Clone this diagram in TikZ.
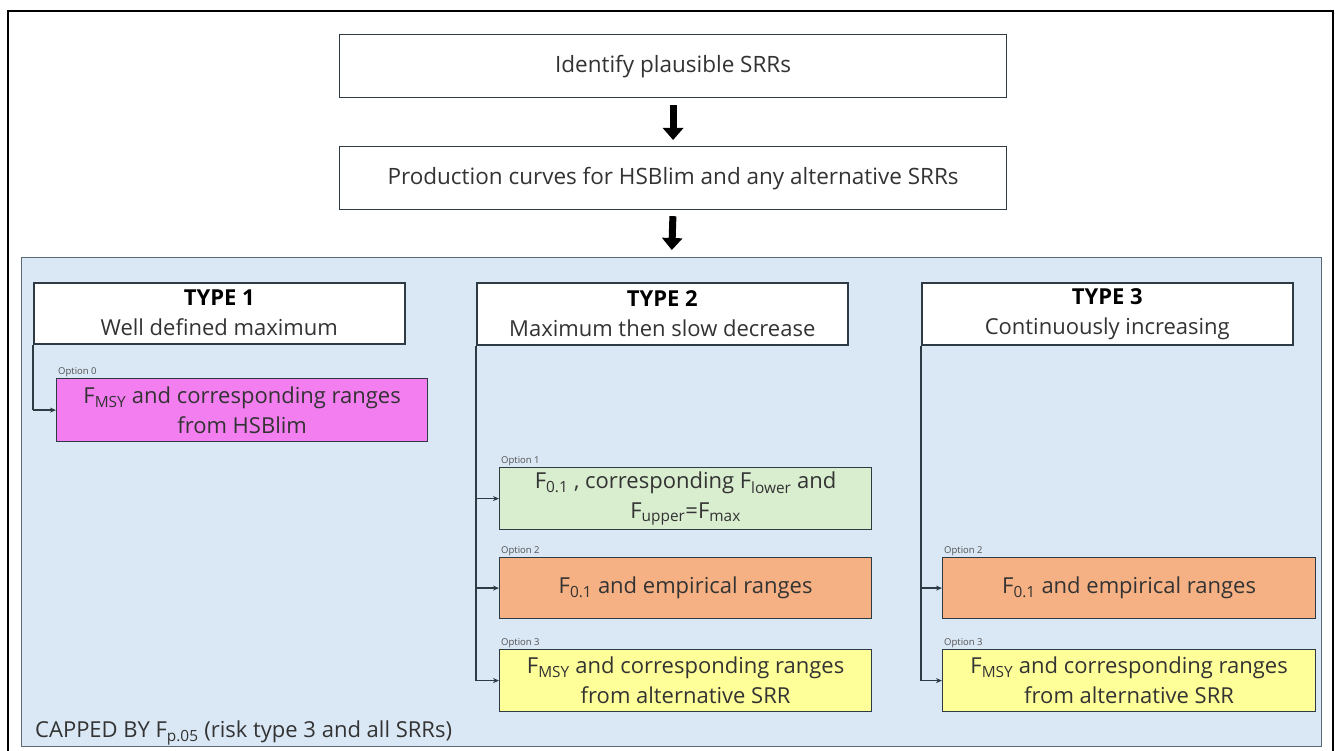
\documentclass[tikz,border=0pt]{standalone}
\usepackage{fontspec}
\setmainfont{Open Sans}
\usetikzlibrary{arrows.meta}
\definecolor{panelfill}{HTML}{DAE8F5}
\definecolor{panelline}{HTML}{5A6878}
\definecolor{boxline}{HTML}{2E3A44}
\definecolor{txt}{HTML}{333333}
\definecolor{pinkfill}{HTML}{F27EF0}
\definecolor{greenfill}{HTML}{D9EDCF}
\definecolor{orangefill}{HTML}{F5B183}
\definecolor{yellowfill}{HTML}{FFFF99}
\tikzset{
  flowbox/.style={draw=boxline, line width=1.2pt, fill=white, anchor=north west,
    inner sep=0pt, align=center, text=txt, font=\fontsize{22.5}{28}\selectfont},
  typebox/.style={draw=boxline, line width=1.5pt, fill=white, anchor=north west,
    inner sep=0pt, align=center, text=txt, font=\fontsize{22}{30}\selectfont},
  optbox/.style={draw=boxline, line width=1.2pt, anchor=north west,
    inner sep=0pt, align=center, text=txt, font=\fontsize{22}{30}\selectfont},
  optlabel/.style={anchor=south west, inner sep=0pt, text=txt!85,
    font=\fontsize{9.5}{10}\selectfont},
  bigarrow/.style={line width=7pt, -{Triangle[width=20pt,length=12pt]}},
  branch/.style={line width=1.5pt, draw=boxline, -{Stealth[length=6pt,width=5pt]}},
  trunk/.style={line width=1.5pt, draw=boxline}
}
\newcommand{\sub}[1]{\textsubscript{#1}}
\begin{document}
\begin{tikzpicture}[x=1pt,y=-1pt]
\useasboundingbox (0,0) rectangle (1335,751);
% outer frame (open at the bottom edge)
\draw[line width=2pt, black] (8,753) -- (8,11) -- (1333,11) -- (1333,753);

% top of the flow
\node[flowbox, minimum width=667pt, minimum height=63pt] (ident) at (339,34) {Identify plausible SRRs};
\node[flowbox, minimum width=667pt, minimum height=63pt] (prod) at (339,146) {Production curves for HSBlim and any alternative SRRs};
\draw[bigarrow, shorten <=7pt, shorten >=6pt] (ident.south) -- (prod.north);

% panel holding the three curve types
\node[draw=panelline, line width=1.2pt, fill=panelfill, anchor=north west, inner sep=0pt,
  minimum width=1300pt, minimum height=489pt] (panel) at (21,257) {};
\draw[bigarrow, shorten <=6pt, shorten >=7pt] (prod.south) -- (panel.north);

\node[anchor=base west, inner sep=0pt, text=txt, font=\fontsize{22}{26}\selectfont] (cap) at (35,737)
  {CAPPED BY F\sub{p.05} (risk type 3 and all SRRs)};

% type headers
\node[typebox, minimum width=371pt, minimum height=61pt] (t1) at (33,282)
  {{\bfseries\color{black}TYPE 1}\\Well defined maximum};
\node[typebox, minimum width=371pt, minimum height=62pt] (t2) at (476,282)
  {{\bfseries\color{black}TYPE 2}\\Maximum then slow decrease};
\node[typebox, minimum width=371pt, minimum height=62pt] (t3) at (921,282)
  {{\bfseries\color{black}TYPE 3}\\Continuously increasing};

% options
\node[optbox, fill=pinkfill, minimum width=371pt, minimum height=63pt] (o0) at (56,378)
  {F\sub{MSY} and corresponding ranges\\from HSBlim};
\node[optlabel] at (o0.north west) [xshift=2pt,yshift=1pt] {Option 0};

\node[optbox, fill=greenfill, minimum width=372pt, minimum height=62pt] (o21) at (499,467)
  {F\sub{0.1} , corresponding F\sub{lower} and\\F\sub{upper}=F\sub{max}};
\node[optlabel] at (o21.north west) [xshift=2pt,yshift=1pt] {Option 1};

\node[optbox, fill=orangefill, minimum width=372pt, minimum height=61pt] (o22) at (499,557)
  {F\sub{0.1} and empirical ranges};
\node[optlabel] at (o22.north west) [xshift=2pt,yshift=1pt] {Option 2};

\node[optbox, fill=yellowfill, minimum width=372pt, minimum height=62pt] (o23) at (499,649)
  {F\sub{MSY} and corresponding ranges\\from alternative SRR};
\node[optlabel] at (o23.north west) [xshift=2pt,yshift=1pt] {Option 3};

\node[optbox, fill=orangefill, minimum width=373pt, minimum height=61pt] (o32) at (942,557)
  {F\sub{0.1} and empirical ranges};
\node[optlabel] at (o32.north west) [xshift=2pt,yshift=1pt] {Option 2};

\node[optbox, fill=yellowfill, minimum width=373pt, minimum height=62pt] (o33) at (942,649)
  {F\sub{MSY} and corresponding ranges\\from alternative SRR};
\node[optlabel] at (o33.north west) [xshift=2pt,yshift=1pt] {Option 3};

% branches from each type to its options
\draw[trunk] (t1.south west) -- (t1.south west |- o0.west);
\draw[branch] (t1.south west |- o0.west) -- (o0.west);

\draw[trunk] (t2.south west) -- (t2.south west |- o23.west);
\draw[branch] (t2.south west |- o21.west) -- (o21.west);
\draw[branch] (t2.south west |- o22.west) -- (o22.west);
\draw[branch] (t2.south west |- o23.west) -- (o23.west);

\draw[trunk] (t3.south west) -- (t3.south west |- o33.west);
\draw[branch] (t3.south west |- o32.west) -- (o32.west);
\draw[branch] (t3.south west |- o33.west) -- (o33.west);
\end{tikzpicture}
\end{document}
